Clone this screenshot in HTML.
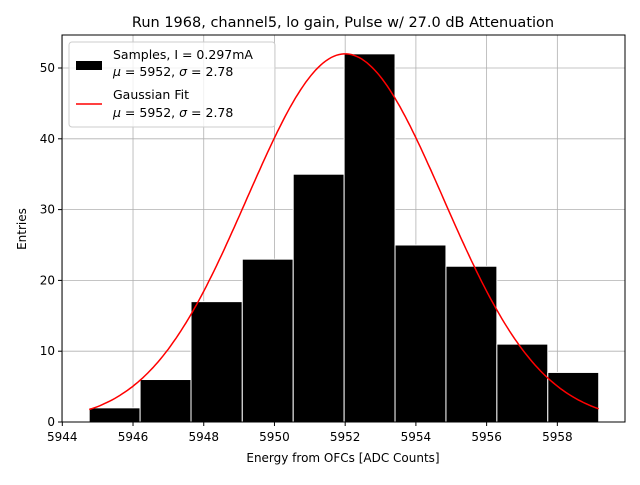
<!DOCTYPE html>
<html><head><meta charset="utf-8"><style>
body{margin:0;background:#fff;font-family:"Liberation Sans","DejaVu Sans",sans-serif}
</style></head><body>
<svg width="640" height="480" xmlns="http://www.w3.org/2000/svg" font-family="DejaVu Sans, Liberation Sans, sans-serif">
<rect width="640" height="480" fill="#fff"/>
<text x="343" y="27" font-size="14.5" text-anchor="middle">Run 1968, channel5, lo gain, Pulse w/ 27.0 dB Attenuation</text>
<g id="grid"></g>
<g id="bars"></g>
<g id="curve"></g>
<rect x="62" y="35" width="563" height="387" fill="none" stroke="#000" stroke-width="1"/>
<g id="ticks" font-size="12"></g>
<text x="343" y="462" font-size="12" text-anchor="middle">Energy from OFCs [ADC Counts]</text>
<text x="26" y="229" font-size="12" text-anchor="middle" transform="rotate(-90 26 229)">Entries</text>
<g>
<rect x="69" y="42" width="206" height="85" rx="3" fill="#fff" fill-opacity="0.8" stroke="#ccc"/>
<rect x="76" y="61" width="26" height="9" fill="#000"/>
<text x="113" y="59" font-size="12.5">Samples, I = 0.297mA</text>
<text x="113" y="76" font-size="12.5"><tspan font-style="italic">μ</tspan> = 5952, <tspan font-style="italic">σ</tspan> = 2.78</text>
<line x1="76" y1="104" x2="102" y2="104" stroke="red" stroke-width="1.5"/>
<text x="113" y="99" font-size="12.5">Gaussian Fit</text>
<text x="113" y="117" font-size="12.5"><tspan font-style="italic">μ</tspan> = 5952, <tspan font-style="italic">σ</tspan> = 2.78</text>
</g>
</svg>
<script>
const binEdges=[5944.76,5946.2,5947.64,5949.09,5950.53,5951.97,5953.41,5954.85,5956.29,5957.73,5959.17];
const counts=[2,6,17,23,35,52,25,22,11,7];
const xTicks=[5944,5946,5948,5950,5952,5954,5956,5958];
const yTicks=[0,10,20,30,40,50];
const fitAmp=52, fitMu=5952, fitSigma=2.78;
const NS='http://www.w3.org/2000/svg';
function x(v){return 62.3+(v-5944)*35.36;}
function y(v){return 422-v*7.08;}
function mk(t,a,p){const e=document.createElementNS(NS,t);for(const k in a)e.setAttribute(k,a[k]);document.getElementById(p).appendChild(e);return e;}
xTicks.forEach(t=>{
 const g=mk('line',{x1:x(t),x2:x(t),y1:35,y2:422,stroke:'#b0b0b0','stroke-width':0.8},'grid');
 
 
 const tk=mk('line',{x1:x(t),x2:x(t),y1:422,y2:426,stroke:'#000'},'ticks');
 
 
 const l=mk('text',{x:x(t),y:441,'text-anchor':'middle'},'ticks');l.textContent=t;
 
 
});
yTicks.forEach(t=>{
 const g=mk('line',{x1:62,x2:625,y1:y(t),y2:y(t),stroke:'#b0b0b0','stroke-width':0.8},'grid');
 
 
 const tk=mk('line',{x1:58,x2:62,y1:y(t),y2:y(t),stroke:'#000'},'ticks');
 
 
 const l=mk('text',{x:55,y:y(t)+4,'text-anchor':'end'},'ticks');l.textContent=t;
 
 
});
counts.forEach((c,i)=>{
 const b=mk('rect',{x:x(binEdges[i]),y:y(c),width:x(binEdges[i+1])-x(binEdges[i]),height:y(0)-y(c),fill:'#000',stroke:'#fff','stroke-width':1},'bars');
 
 
});
let pts=[];const a=binEdges[0],bnd=binEdges[binEdges.length-1];
for(let i=0;i<=200;i++){const v=a+(bnd-a)*i/200;const f=fitAmp*Math.exp(-((v-fitMu)**2)/(2*fitSigma*fitSigma));pts.push(x(v).toFixed(1)+','+y(f).toFixed(1));}
const p=mk('polyline',{points:pts.join(' '),fill:'none',stroke:'red','stroke-width':1.5},'curve');


</script>
</body></html>
